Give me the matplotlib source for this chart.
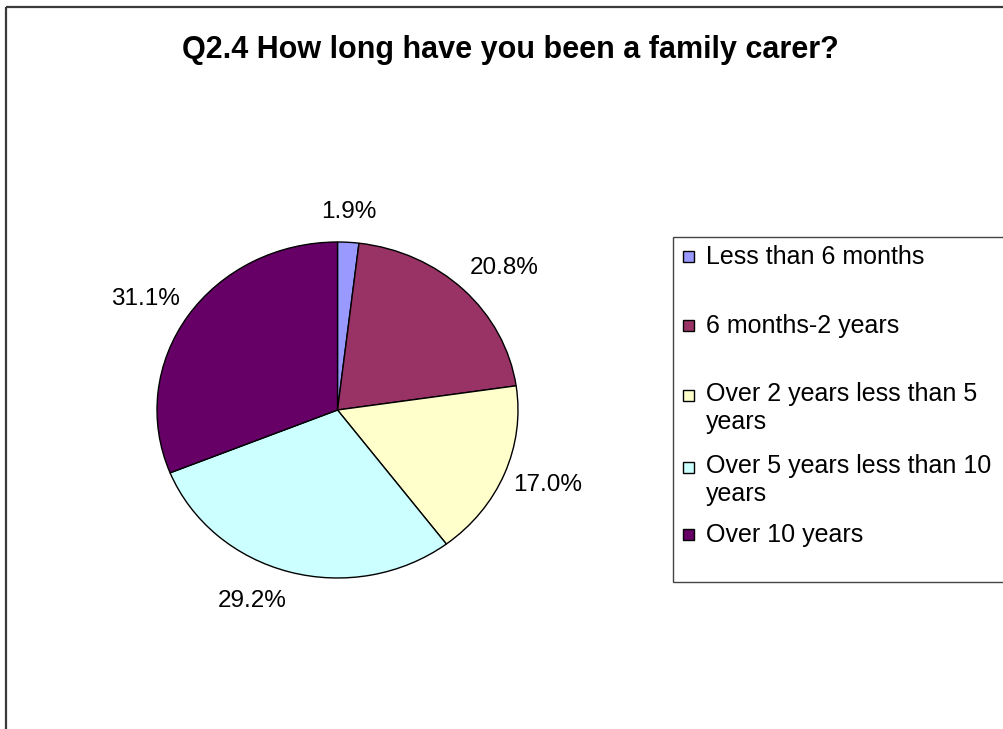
import matplotlib
matplotlib.use("Agg")
import matplotlib.pyplot as plt
from matplotlib.patches import Rectangle
import numpy as np

plt.rcParams['font.family'] = ['Liberation Sans', 'DejaVu Sans']

TITLE = "Q2.4 How long have you been a family carer?"
categories = [
  "Less than 6 months",
  "6 months-2 years",
  "Over 2 years less than 5\nyears",
  "Over 5 years less than 10\nyears",
  "Over 10 years",
]
shares = [1.9, 20.8, 17.0, 29.2, 31.1]
colors = ['#9999FF', '#993366', '#FFFFCC', '#CCFFFF', '#660066']

W, H = 1004, 729
fig = plt.figure(figsize=(W / 100, H / 100), dpi=100, facecolor='white')

# overlay in pixel units for frame, title and legend
over = fig.add_axes([0, 0, 1, 1])
over.set_xlim(0, W)
over.set_ylim(H, 0)
over.axis('off')

# chart area border (only left and top edges are visible)
over.plot([6, 6], [6.5, H], color='#3a3a3a', lw=1.6, solid_capstyle='butt')
over.plot([6, W], [6.5, 6.5], color='#3a3a3a', lw=1.6, solid_capstyle='butt')

over.text(510, 58, TITLE, ha='center', va='baseline', fontsize=22, fontweight='bold', color='black')

# pie, slightly wider than tall
ax = fig.add_axes([157 / W, (H - 578) / H, 361 / W, 336 / H])
wedges, _ = ax.pie(shares, colors=colors, startangle=90, counterclock=False,
                   wedgeprops=dict(edgecolor='black', linewidth=1.0))
ax.set_aspect('auto')
ax.set_xlim(-1, 1)
ax.set_ylim(-1, 1)

for w, v in zip(wedges, shares):
  mid = np.deg2rad((w.theta1 + w.theta2) / 2)
  cx, cy = np.cos(mid), np.sin(mid)
  if cx > 0.15:
    ha = 'left'
  elif cx < -0.15:
    ha = 'right'
  else:
    ha = 'center'
  ax.text(1.05 * cx, 1.18 * cy, f"{v:.1f}%", ha=ha, va='center', fontsize=17.5, color='black', clip_on=False)

# legend box running off the right edge
over.add_patch(Rectangle((673, 237), W, 345, facecolor='white', edgecolor='#444444', lw=1.0))
baselines = [264, 333, 403, 475, 542]
line_step = 26
for label, c, yb in zip(categories, colors, baselines):
  over.add_patch(Rectangle((683, yb - 13), 11, 11, facecolor=c, edgecolor='black', lw=1.0))
  # baseline alignment uses the last line, so shift wrapped labels down
  extra = label.count("\n") * line_step
  over.text(706, yb + extra, label, ha='left', va='baseline', fontsize=18, color='black', linespacing=1.2)

fig.savefig("out.png", dpi=100, facecolor='white')
